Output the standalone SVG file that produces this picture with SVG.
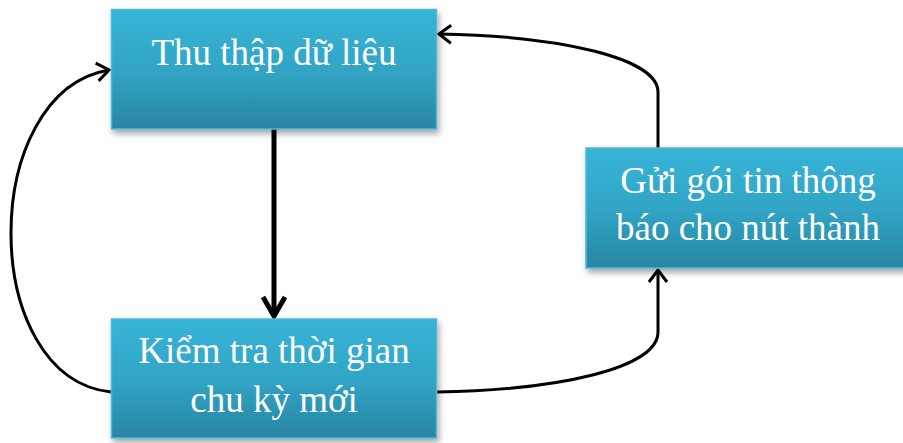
<svg xmlns="http://www.w3.org/2000/svg" width="903" height="443" viewBox="0 0 903 443">
<style>
.box{fill:url(#g);stroke:#4fb8d6;stroke-width:1.5;filter:url(#sh)}
.t{font-family:"Liberation Serif","Times New Roman",serif;font-size:37px;fill:#fff;text-anchor:middle}
.c{fill:none;stroke:#000;stroke-width:3}
</style>
<defs>
<linearGradient id="g" x1="0" y1="0" x2="0" y2="1">
<stop offset="0" stop-color="#37b4d7"/>
<stop offset="0.5" stop-color="#31a5c6"/>
<stop offset="1" stop-color="#2886a2"/>
</linearGradient>
<filter id="sh" x="-10%" y="-10%" width="130%" height="140%">
<feDropShadow dx="2" dy="4" stdDeviation="3" flood-color="#000" flood-opacity="0.35"/>
</filter>
<marker id="open" markerUnits="userSpaceOnUse" markerWidth="20" markerHeight="22" refX="14" refY="11" orient="auto">
<path d="M2,2 L14,11 L2,20" fill="none" stroke="#000" stroke-width="3"/>
</marker>
</defs>
<g id="connectors">
<path class="c" d="M274,129 L274,316" style="stroke-width:5"/>
<path class="c" d="M263,297 L274,316 L285,297" style="stroke-width:5;stroke-linejoin:miter"/>
<path class="c" d="M111,392 C-22,378 -22,92 109,70" marker-end="url(#open)"/>
<path class="c" d="M658,148 L658,92 C658,58 560,36 439,34" marker-end="url(#open)"/>
<path class="c" d="M437,392 C560,390 658,368 658,332 L658,270" marker-end="url(#open)"/>
</g>
<g id="n1">
<rect class="box" x="111.5" y="9.5" width="325" height="119.5"/>
<text class="t" x="274" y="65">Thu thập dữ liệu</text>
</g>
<g id="n2">
<rect class="box" x="586" y="148" width="324" height="120"/>
<text class="t" x="748" y="193">Gửi gói tin thông</text>
<text class="t" x="748" y="240">báo cho nút thành</text>
</g>
<g id="n3">
<rect class="box" x="111.5" y="319" width="325" height="119"/>
<text class="t" x="274" y="363">Kiểm tra thời gian</text>
<text class="t" x="274" y="412">chu kỳ mới</text>
</g>
</svg>
